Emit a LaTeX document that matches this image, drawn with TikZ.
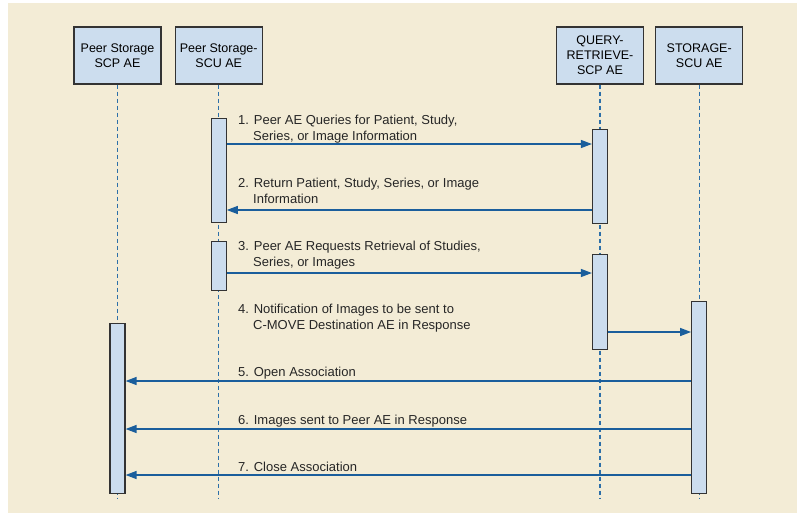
\documentclass[tikz,border=0pt]{standalone}
\usepackage{fontspec}
\setmainfont{Liberation Sans}
\usetikzlibrary{positioning,arrows.meta}
\definecolor{bgbeige}{HTML}{F3ECD6}
\definecolor{boxblue}{HTML}{CCDDEE}
\definecolor{lineblue}{HTML}{1A5E9C}
\definecolor{dashblue}{HTML}{2C6FA8}
\definecolor{edgegray}{HTML}{333333}
\begin{document}
\begin{tikzpicture}[
  x=1pt, y=-1pt,
  aebox/.style={rectangle, draw=edgegray, fill=boxblue, line width=1.2pt, minimum width=87pt, minimum height=57pt, align=center, inner sep=1pt, font=\fontsize{12.5}{15}\selectfont},
  actbar/.style={rectangle, draw=edgegray, fill=boxblue, line width=1.2pt, minimum width=15pt, inner sep=0pt},
  lifeline/.style={draw=dashblue, line width=1.2pt, dash pattern=on 4pt off 3pt},
  msg/.style={draw=lineblue, line width=1.3pt, -{Triangle[length=11pt,width=8pt]}},
  msglabel/.style={anchor=base west, align=left, inner sep=0pt, text=black!85, font=\fontsize{13}{15.5}\selectfont}
]
\useasboundingbox (0,0) rectangle (797,520);
\fill[bgbeige] (8,3) rectangle (797,513);

%Nodes
\node[aebox] (scp) at (117.5,55.5) {Peer Storage\\SCP AE};
\node[aebox, right=13pt of scp] (scu) {Peer Storage-\\SCU AE};
\node[aebox] (qr) at (600,55.5) {QUERY-\\RETRIEVE-\\SCP AE};
\node[aebox, right=11pt of qr] (stor) {STORAGE-\\SCU AE};

%Lifelines
\coordinate (lend) at (0,498);
\foreach \ae in {scp,scu,qr,stor}
  \draw[lifeline] (\ae.south) -- (\ae |- lend);

%Activations
\node[actbar, minimum height=104pt, below=33pt of scu] (scuact1) {};
\node[actbar, minimum height=49pt, below=18pt of scuact1] (scuact2) {};
\node[actbar, minimum height=94pt, below=44pt of qr] (qract1) {};
\node[actbar, minimum height=95pt, below=30pt of qract1] (qract2) {};
\node[actbar, minimum height=192pt, below=216pt of stor] (storact) {};
\node[actbar, minimum height=170pt, below=238pt of scp] (scpact) {};

%Message heights
\coordinate (m1) at (0,144);
\coordinate (m2) at (0,210);
\coordinate (m3) at (0,273);
\coordinate (m4) at (0,332);
\coordinate (m5) at (0,381);
\coordinate (m6) at (0,429);
\coordinate (m7) at (0,475);

%Arrows
\draw[msg] (scuact1.east |- m1) -- (qract1.west |- m1);
\draw[msg] (qract1.west |- m2) -- (scuact1.east |- m2);
\draw[msg] (scuact2.east |- m3) -- (qract2.west |- m3);
\draw[msg] (qract2.east |- m4) -- (storact.west |- m4);
\draw[msg] (storact.west |- m5) -- (scpact.east |- m5);
\draw[msg] (storact.west |- m6) -- (scpact.east |- m6);
\draw[msg] (storact.west |- m7) -- (scpact.east |- m7);

%Labels (anchored at the last line)
\node[msglabel] (l1) at (238,140) {1. Peer AE Queries for Patient, Study,\\\hspace*{15pt}Series, or Image Information};
\node[msglabel] (l2) at (238,203) {2. Return Patient, Study, Series, or Image\\\hspace*{15pt}Information};
\node[msglabel] (l3) at (238,266) {3. Peer AE Requests Retrieval of Studies,\\\hspace*{15pt}Series, or Images};
\node[msglabel] (l4) at (238,329) {4. Notification of Images to be sent to\\\hspace*{15pt}C-MOVE Destination AE in Response};
\node[msglabel] (l5) at (238,376) {5. Open Association};
\node[msglabel] (l6) at (238,424) {6. Images sent to Peer AE in Response};
\node[msglabel] (l7) at (238,471) {7. Close Association};
\end{tikzpicture}
\end{document}
